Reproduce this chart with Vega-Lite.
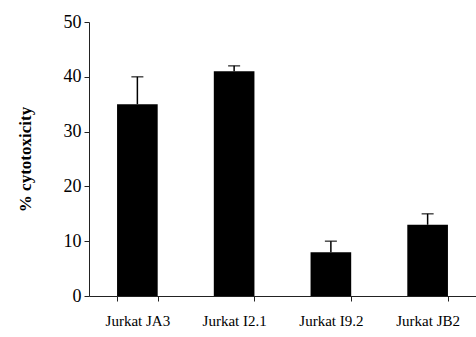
{
  "$schema": "https://vega.github.io/schema/vega-lite/v6.json",
  "autosize": "none",
  "padding": {"left": 89, "top": 22, "right": 0, "bottom": 41},
  "width": 387,
  "height": 274,
  "background": "white",
  "data": {"values": [
    {"line": "Jurkat JA3", "value": 35, "upper": 40},
    {"line": "Jurkat I2.1", "value": 41, "upper": 42},
    {"line": "Jurkat I9.2", "value": 8, "upper": 10},
    {"line": "Jurkat JB2", "value": 13, "upper": 15}
  ]},
  "config": {
    "view": {"stroke": null},
    "font": "Liberation Serif, Times New Roman, DejaVu Serif, serif",
    "axis": {"domainColor": "#222", "tickColor": "#222", "labelColor": "black", "titleColor": "black", "grid": false, "labelFont": "Liberation Serif, Times New Roman, DejaVu Serif, serif", "titleFont": "Liberation Serif, Times New Roman, DejaVu Serif, serif"}
  },
  "encoding": {
    "x": {"field": "line", "type": "nominal", "sort": null,
      "scale": {"paddingInner": 0.58, "paddingOuter": 0.29},
      "axis": {"title": null, "labelAngle": 0, "labelFontSize": 15, "labelPadding": 12, "tickSize": 5, "tickBand": "extent", "domainWidth": 1}}
  },
  "layer": [
    {"mark": {"type": "rule", "color": "black", "strokeWidth": 1.5},
     "encoding": {"y": {"field": "value", "type": "quantitative"}, "y2": {"field": "upper"}}},
    {"mark": {"type": "tick", "color": "black", "thickness": 1.5, "size": 12, "orient": "horizontal"},
     "encoding": {"y": {"field": "upper", "type": "quantitative"}}},
    {"mark": {"type": "bar", "color": "black"},
     "encoding": {"y": {"field": "value", "type": "quantitative",
       "scale": {"domain": [0, 50]},
       "axis": {"title": "% cytotoxicity", "values": [0, 10, 20, 30, 40, 50], "labelFontSize": 18, "labelPadding": 3, "tickSize": 5, "titleFontSize": 17, "titleFontWeight": "bold", "titlePadding": 29}}}}
  ]
}
